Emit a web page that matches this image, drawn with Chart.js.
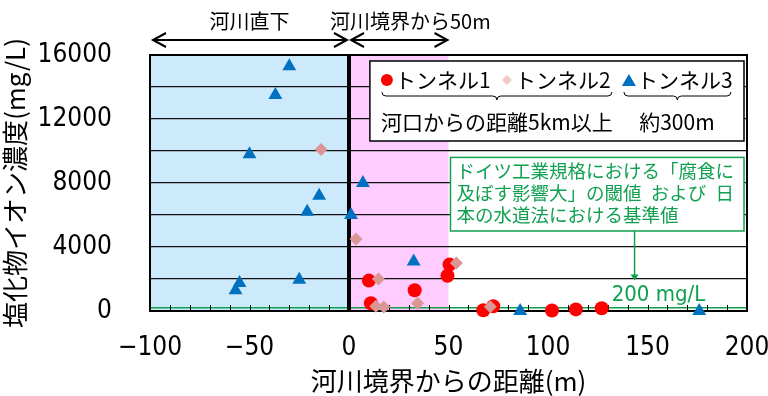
<!DOCTYPE html>
<html lang="ja">
<head>
<meta charset="utf-8">
<script src="https://cdn.jsdelivr.net/npm/chart.js@4.4.1/dist/chart.umd.min.js"></script>
<style>
  body { margin: 0; background: #fff; }
  canvas { display: block; }
</style>
</head>
<body>
<canvas id="chart" width="768" height="396"></canvas>
<script>
// Distance from river boundary (m) / chloride ion concentration (mg/L)
const tunnel1X = [10, 11, 33, 49.5, 50.5, 67.5, 72.5, 102, 114, 127];
const tunnel1Y = [1900, 480, 1300, 2200, 2900, 50, 300, 30, 100, 170];

const tunnel2X = [-14, 3.5, 14.8, 54, 13.5, 17.5, 34.5, 71];
const tunnel2Y = [10100, 4500, 2000, 3000, 300, 250, 480, 270];

const tunnel3X = [-30, -37, -50, -15, -21, 1, 7, -55, -57, -25, 32.5, 86, 176];
const tunnel3Y = [15300, 13500, 9800, 7200, 6200, 6000, 8000, 1750, 1300, 1950, 3100, 0, 0];

const seriesNames = ['トンネル1', 'トンネル2', 'トンネル3'];
const xTickLabels = [-100, -50, 0, 50, 100, 150, 200];
const yTickLabels = [0, 4000, 8000, 12000, 16000];
const LIMIT = 200; // mg/L

// Colours
const RED = '#ff0000';
const PINK = '#d99694';
const PINK_LIGHT = '#f4c7c7';
const BLUE = '#0070c0';
const GREEN = '#10a050';
const BLUE_BG = '#cdeafc';
const PINK_BG = '#ffccff';

const CJK = "'Noto Sans CJK JP', sans-serif";
const NARROW = "'Liberation Sans Narrow', 'DejaVu Sans Condensed', sans-serif";

const toPoints = (xs, ys) => xs.map((x, i) => ({ x, y: ys[i] }));

function hArrow(ctx, x1, x2, yy) {
  ctx.beginPath();
  ctx.moveTo(x1, yy); ctx.lineTo(x2, yy);
  ctx.moveTo(x1 + 13, yy - 7); ctx.lineTo(x1, yy); ctx.lineTo(x1 + 13, yy + 7);
  ctx.moveTo(x2 - 13, yy - 7); ctx.lineTo(x2, yy); ctx.lineTo(x2 - 13, yy + 7);
  ctx.stroke();
}

function brace(ctx, x1, x2, yy) {
  const mid = (x1 + x2) / 2, r = 4;
  ctx.beginPath();
  ctx.moveTo(x1, yy);
  ctx.quadraticCurveTo(x1, yy + r, x1 + r, yy + r);
  ctx.lineTo(mid - r, yy + r);
  ctx.quadraticCurveTo(mid, yy + r, mid, yy + 2 * r);
  ctx.quadraticCurveTo(mid, yy + r, mid + r, yy + r);
  ctx.lineTo(x2 - r, yy + r);
  ctx.quadraticCurveTo(x2, yy + r, x2, yy);
  ctx.stroke();
}

const overlay = {
  id: 'overlay',
  beforeDraw(chart) {
    const { ctx, chartArea: a, scales: { x } } = chart;
    ctx.save();
    ctx.fillStyle = '#fff';
    ctx.fillRect(0, 0, chart.width, chart.height);
    const xm = x.getPixelForValue(-100), x0 = x.getPixelForValue(0), x50 = x.getPixelForValue(50);
    ctx.fillStyle = BLUE_BG;
    ctx.fillRect(xm, a.top, x0 - xm, a.bottom - a.top);
    ctx.fillStyle = PINK_BG;
    ctx.fillRect(x0, a.top, x50 - x0, a.bottom - a.top);
    ctx.restore();
  },
  beforeDatasetsDraw(chart) {
    const { ctx, chartArea: a, scales: { x, y } } = chart;
    ctx.save();
    // 200 mg/L line
    const yl = y.getPixelForValue(LIMIT);
    ctx.strokeStyle = GREEN;
    ctx.lineWidth = 1.5;
    ctx.beginPath(); ctx.moveTo(a.left, yl); ctx.lineTo(a.right, yl); ctx.stroke();
    // inner minor ticks
    ctx.strokeStyle = '#000';
    ctx.lineWidth = 1;
    x.ticks.forEach(t => {
      const px = Math.round(x.getPixelForValue(t.value)) + 0.5;
      ctx.beginPath(); ctx.moveTo(px, a.bottom); ctx.lineTo(px, a.bottom - 6); ctx.stroke();
    });
    // plot border
    ctx.lineWidth = 2;
    ctx.strokeRect(a.left, a.top, a.right - a.left, a.bottom - a.top);
    // river boundary
    const x0 = x.getPixelForValue(0);
    ctx.lineWidth = 4;
    ctx.beginPath(); ctx.moveTo(x0, a.top); ctx.lineTo(x0, a.bottom); ctx.stroke();
    ctx.restore();
  },
  afterDraw(chart) {
    const { ctx, chartArea: a, scales: { x, y } } = chart;
    ctx.save();

    // top arrows
    ctx.strokeStyle = '#000';
    ctx.lineWidth = 2;
    const x0 = x.getPixelForValue(0);
    hArrow(ctx, x.getPixelForValue(-100) + 3, x0 - 2, 40);
    hArrow(ctx, x0 + 2, x.getPixelForValue(49.5), 40);
    ctx.fillStyle = '#000';
    ctx.font = `20px ${CJK}`;
    ctx.textBaseline = 'middle';
    ctx.textAlign = 'center';
    ctx.fillText('河川直下', x.getPixelForValue(-50), 21);
    ctx.textAlign = 'left';
    ctx.fillText('河川境界から50m', x0 - 19, 21);

    // standard note box
    const bl = x.getPixelForValue(51), br = a.right - 3;
    const bt = y.getPixelForValue(9600), bb = y.getPixelForValue(5000);
    ctx.fillStyle = '#fff';
    ctx.fillRect(bl, bt, br - bl, bb - bt);
    ctx.strokeStyle = GREEN;
    ctx.lineWidth = 1.5;
    ctx.strokeRect(bl, bt, br - bl, bb - bt);
    ctx.fillStyle = GREEN;
    ctx.font = `18.5px ${CJK}`;
    ctx.textAlign = 'left';
    const noteLines = ['ドイツ工業規格における「腐食に', '及ぼす影響大」の閾値\u2002および\u2002日', '本の水道法における基準値'];
    noteLines.forEach((s, i) => ctx.fillText(s, bl + 6, bt + 14 + i * 21.7));
    // arrow down to the limit line
    const ax = x.getPixelForValue(143.5), ay = y.getPixelForValue(1900);
    ctx.beginPath(); ctx.moveTo(ax, bb); ctx.lineTo(ax, ay - 5); ctx.stroke();
    ctx.beginPath(); ctx.moveTo(ax - 4, ay - 6); ctx.lineTo(ax + 4, ay - 6); ctx.lineTo(ax, ay); ctx.closePath(); ctx.fill();
    ctx.font = `22px ${NARROW}`;
    ctx.fillText('200 mg/L', x.getPixelForValue(132), y.getPixelForValue(LIMIT) - 13);

    // legend box
    const ll = x.getPixelForValue(10.5), lt = a.top + 6, lr = a.right - 3, lb = a.top + 86;
    ctx.fillStyle = '#fff';
    ctx.fillRect(ll, lt, lr - ll, lb - lt);
    ctx.strokeStyle = '#000';
    ctx.lineWidth = 1.5;
    ctx.strokeRect(ll, lt, lr - ll, lb - lt);
    const ly = lt + 19;
    ctx.fillStyle = RED;
    ctx.beginPath(); ctx.arc(ll + 17, ly, 6, 0, Math.PI * 2); ctx.fill();
    ctx.fillStyle = PINK_LIGHT;
    ctx.beginPath();
    ctx.moveTo(ll + 137, ly - 5); ctx.lineTo(ll + 142, ly); ctx.lineTo(ll + 137, ly + 5); ctx.lineTo(ll + 132, ly);
    ctx.closePath(); ctx.fill();
    ctx.fillStyle = BLUE;
    ctx.beginPath();
    ctx.moveTo(ll + 259, ly - 6); ctx.lineTo(ll + 266, ly + 6); ctx.lineTo(ll + 252, ly + 6);
    ctx.closePath(); ctx.fill();
    ctx.fillStyle = '#000';
    ctx.font = `21px ${CJK}`;
    ctx.textAlign = 'left';
    ctx.fillText(seriesNames[0], ll + 25, ly);
    ctx.fillText(seriesNames[1], ll + 145, ly);
    ctx.fillText(seriesNames[2], ll + 267, ly);
    ctx.strokeStyle = '#000';
    ctx.lineWidth = 1;
    brace(ctx, ll + 12, ll + 242, lt + 31);
    brace(ctx, ll + 254, ll + 361, lt + 31);
    ctx.textAlign = 'center';
    ctx.fillText('河口からの距離5km以上', ll + 127, lt + 61);
    ctx.fillText('約300m', ll + 307, lt + 61);

    ctx.restore();
  }
};

new Chart(document.getElementById('chart'), {
  type: 'scatter',
  data: {
    datasets: [
      { label: seriesNames[0], data: toPoints(tunnel1X, tunnel1Y), pointStyle: 'circle', pointRadius: 7,
        backgroundColor: RED, borderColor: RED, borderWidth: 0, clip: false, order: 3 },
      { label: seriesNames[1], data: toPoints(tunnel2X, tunnel2Y), pointStyle: 'rectRot', pointRadius: 6.5,
        backgroundColor: PINK, borderColor: PINK, borderWidth: 0, clip: false, order: 2 },
      { label: seriesNames[2], data: toPoints(tunnel3X, tunnel3Y), pointStyle: 'triangle', pointRadius: 8,
        backgroundColor: BLUE, borderColor: BLUE, borderWidth: 0, clip: false, order: 1 }
    ]
  },
  options: {
    responsive: false,
    animation: false,
    layout: { padding: { top: 55, right: 21, left: 0, bottom: 0 } },
    plugins: { legend: { display: false }, tooltip: { enabled: false } },
    scales: {
      x: {
        type: 'linear', min: -100, max: 200,
        afterFit: s => { s.height = 85; s.paddingLeft = 0; s.paddingRight = 0; },
        grid: { display: false },
        border: { display: false },
        ticks: {
          stepSize: 10, autoSkip: false, maxRotation: 0, padding: 14,
          color: '#000', font: { family: NARROW, size: 26 },
          callback: v => xTickLabels.includes(v) ? String(v).replace('-', '\u2212') : ''
        },
        title: { display: true, text: '河川境界からの距離(m)', color: '#000',
          font: { family: CJK, size: 26 }, padding: { top: 0, bottom: -1 } }
      },
      y: {
        min: 0, max: 16000,
        afterFit: s => { s.width = 150; s.paddingTop = 0; s.paddingBottom = 0; },
        grid: { color: '#111', lineWidth: 1.3, drawTicks: false },
        border: { display: false },
        ticks: {
          stepSize: 2000, autoSkip: false, padding: 38,
          color: '#000', font: { family: NARROW, size: 26 },
          callback: v => yTickLabels.includes(v) ? String(v) : ''
        },
        title: { display: true, text: '塩化物イオン濃度(mg/L)', color: '#000',
          font: { family: CJK, size: 26 }, padding: { top: 0, bottom: 0 } }
      }
    }
  },
  plugins: [overlay]
});
</script>
</body>
</html>
